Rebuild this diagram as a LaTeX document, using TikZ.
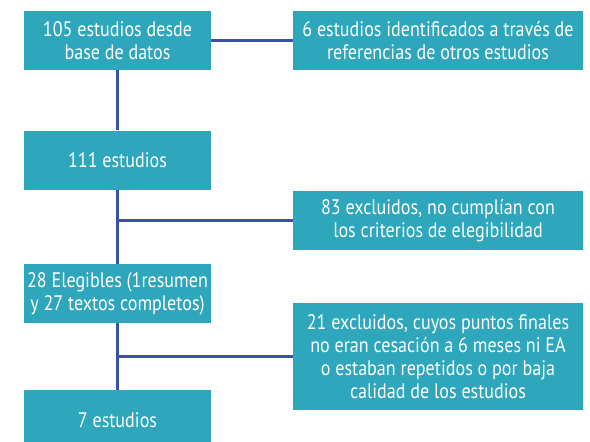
\documentclass[tikz,border=0pt]{standalone}
\usepackage{fontspec}
\setmainfont[FakeStretch=0.86]{PT Sans}
\definecolor{boxteal}{HTML}{2EA6BC}
\definecolor{lineblue}{HTML}{3A52A6}
\begin{document}
\begin{tikzpicture}[x=1pt,y=-1pt,
  box/.style={fill=boxteal, text=white, align=center, inner sep=0pt,
    font=\fontsize{21}{23}\selectfont},
  conn/.style={draw=lineblue, line width=2.8pt}]
\useasboundingbox (0,0) rectangle (590,442);
\node[box, minimum width=187pt, minimum height=59pt] (b1) at (117.5,40.5) {105 estudios desde\\base de datos};
\node[box, minimum width=290pt, minimum height=59pt] (b2) at (438,40.5) {6 estudios identificados a través de\\referencias de otros estudios};
\node[box, minimum width=187pt, minimum height=59pt] (b3) at (117.5,160) {111 estudios};
\node[box, minimum width=290pt, minimum height=59pt] (b4) at (438,220.5) {83 excluidos, no cumplían con\\los criterios de elegibilidad};
\node[box, minimum width=187pt, minimum height=59pt] (b5) at (117.5,293.5) {28 Elegibles (1resumen\\y 27 textos completos)};
\node[box, minimum width=290pt, minimum height=107pt] (b6) at (438,356.5) {21 excluidos, cuyos puntos finales\\no eran cesación a 6 meses ni EA\\o estaban repetidos o por baja\\calidad de los estudios};
\node[box, minimum width=187pt, minimum height=60pt] (b7) at (117.5,420) {7 estudios};
\draw[conn] (b1.east) -- (b2.west);
\draw[conn] (b1.south) -- (b3.north);
\draw[conn] (b3.south) -- (b5.north);
\draw[conn] (b5.south) -- (b7.north);
\coordinate (m1) at (117.5,220.5);
\coordinate (m2) at (117.5,356.5);
\draw[conn] (m1) -- (b4.west);
\draw[conn] (m2) -- (b6.west);
\end{tikzpicture}
\end{document}
